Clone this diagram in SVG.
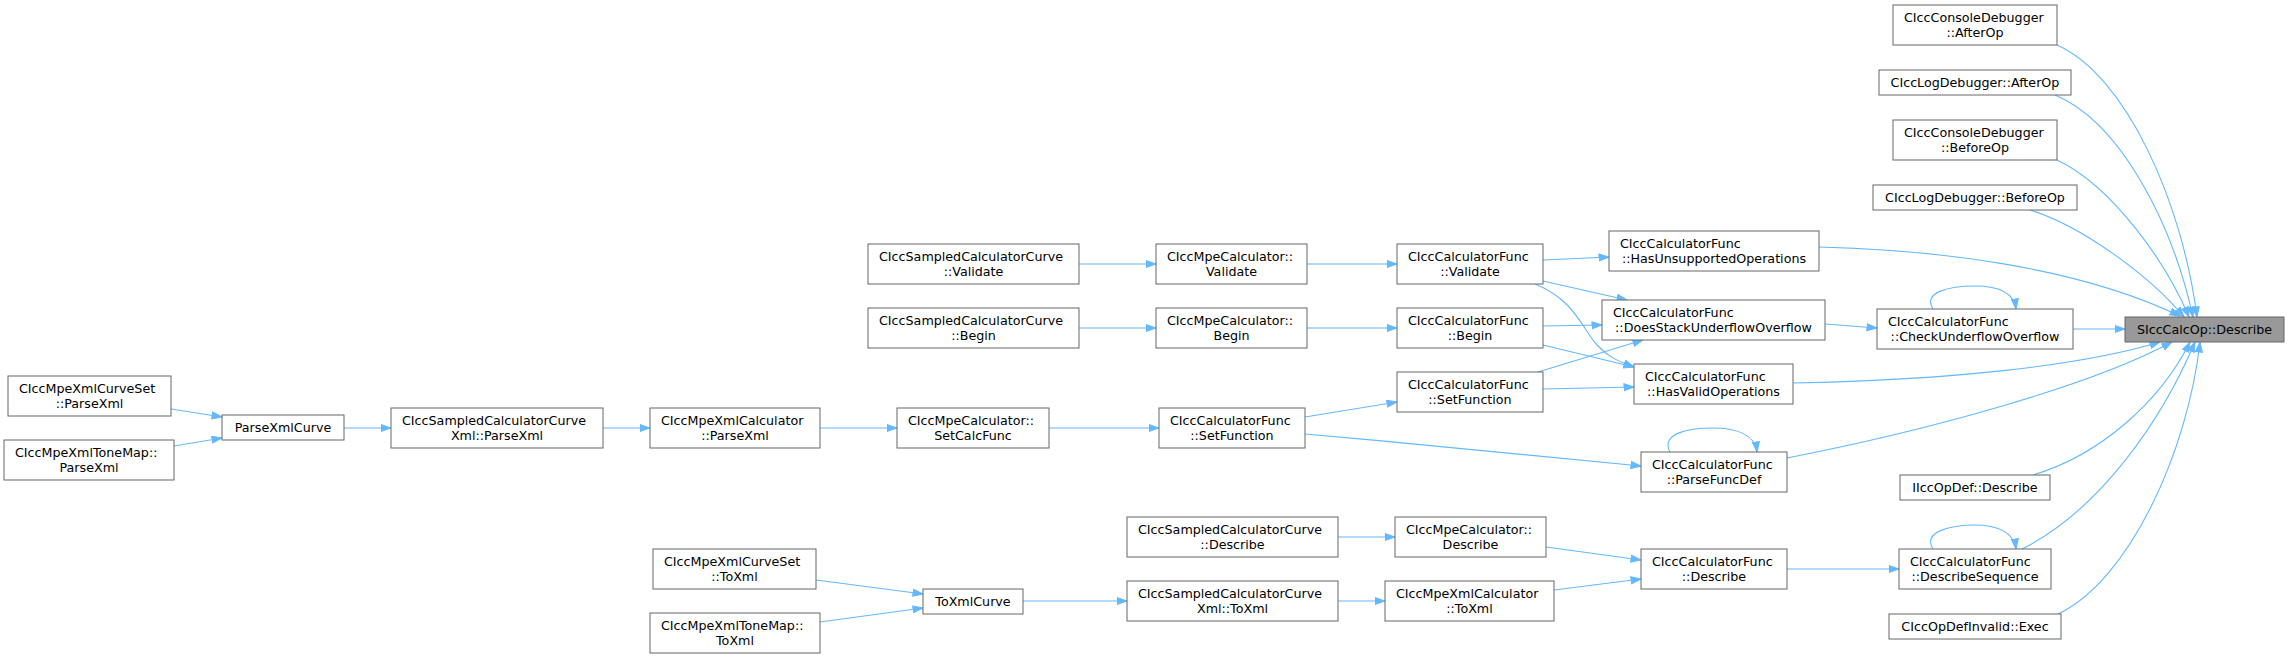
<svg xmlns="http://www.w3.org/2000/svg" width="2289" height="659" viewBox="0 0 2289 659">
<style>
rect.n{fill:#ffffff;stroke:#666666;stroke-width:1}
rect.h{fill:#999999;stroke:#666666;stroke-width:1}
text{font-family:"DejaVu Sans",sans-serif;font-size:12.7px;fill:#000000}
text.c{text-anchor:middle}
text.l{text-anchor:start}
#edges path{fill:none;stroke:#63b8ff;stroke-width:1.1;marker-end:url(#arr)}
</style>
<defs>
<marker id="arr" markerUnits="userSpaceOnUse" markerWidth="12" markerHeight="10" refX="10.5" refY="4" orient="auto">
<path d="M0.5,0.5 L10.5,4 L0.5,7.5 z" fill="#63b8ff" stroke="#63b8ff" stroke-width="1"/>
</marker>
</defs>
<rect width="2289" height="659" fill="#ffffff"/>
<g id="edges">
<path d="M171,409 L222,417"/>
<path d="M174,446 L222,438"/>
<path d="M344,428 L391,428"/>
<path d="M603,428 L650,428"/>
<path d="M820,428 L897,428"/>
<path d="M1049,428 L1159,428"/>
<path d="M1305,417 L1397,402"/>
<path d="M1305,434 C1420,444 1540,456 1641,466"/>
<path d="M1079,264 L1156,264"/>
<path d="M1307,264 L1397,264"/>
<path d="M1079,328 L1156,328"/>
<path d="M1307,328 L1397,328"/>
<path d="M1543,260 L1609,257"/>
<path d="M1543,281 L1627,300"/>
<path d="M1535,284 C1575,300 1583,330 1597,345 C1607,356 1617,361 1634,367"/>
<path d="M1543,326 L1602,325"/>
<path d="M1543,345 L1634,367"/>
<path d="M1538,372 L1643,340"/>
<path d="M1543,389 L1634,387"/>
<path d="M1825,324 L1877,328"/>
<path d="M2073,329 L2125,329"/>
<path d="M1933,309 C1922,292 1950,286 1975,286 C1997,286 2014,292 2016,309"/>
<path d="M1819,247 C1935,250 2075,266 2180,316"/>
<path d="M2057,45 C2125,75 2182,200 2197,317"/>
<path d="M2055,95 C2120,122 2172,222 2193,317"/>
<path d="M2057,160 C2112,186 2166,262 2189,317"/>
<path d="M2030,210 C2082,226 2150,276 2184,317"/>
<path d="M1793,383 C1950,380 2080,366 2160,342"/>
<path d="M1787,458 C1930,430 2090,386 2172,342"/>
<path d="M1670,452 C1660,433 1690,428 1712,428 C1735,428 1755,434 1757,452"/>
<path d="M2033,475 C2100,455 2160,402 2190,342"/>
<path d="M2022,549 C2100,510 2162,420 2195,342"/>
<path d="M1933,549 C1922,532 1950,525 1975,525 C1997,525 2014,532 2016,549"/>
<path d="M2058,614 C2130,580 2188,450 2200,342"/>
<path d="M1787,569 L1899,569"/>
<path d="M816,580 L923,594"/>
<path d="M820,622 L923,608"/>
<path d="M1023,601 L1127,601"/>
<path d="M1338,601 L1385,601"/>
<path d="M1338,537 L1395,537"/>
<path d="M1546,547 L1641,560"/>
<path d="M1554,590 L1641,579"/>
</g>
<g id="n1"><rect class="n" x="8" y="376" width="163" height="40"/><text class="l" x="19" y="392.5">CIccMpeXmlCurveSet</text><text class="c" x="89.5" y="407.5">::ParseXml</text></g>
<g id="n2"><rect class="n" x="4" y="440" width="170" height="40"/><text class="l" x="15" y="456.5">CIccMpeXmlToneMap::</text><text class="c" x="89" y="471.5">ParseXml</text></g>
<g id="n3"><rect class="n" x="222" y="415" width="122" height="25"/><text class="c" x="283" y="431.5">ParseXmlCurve</text></g>
<g id="n4"><rect class="n" x="391" y="408" width="212" height="40"/><text class="l" x="402" y="424.5">CIccSampledCalculatorCurve</text><text class="c" x="497" y="439.5">Xml::ParseXml</text></g>
<g id="n5"><rect class="n" x="650" y="408" width="170" height="40"/><text class="l" x="661" y="424.5">CIccMpeXmlCalculator</text><text class="c" x="735" y="439.5">::ParseXml</text></g>
<g id="n6"><rect class="n" x="897" y="408" width="152" height="40"/><text class="l" x="908" y="424.5">CIccMpeCalculator::</text><text class="c" x="973" y="439.5">SetCalcFunc</text></g>
<g id="n7"><rect class="n" x="1159" y="408" width="146" height="40"/><text class="l" x="1170" y="424.5">CIccCalculatorFunc</text><text class="c" x="1232" y="439.5">::SetFunction</text></g>
<g id="n8"><rect class="n" x="868" y="244" width="211" height="40"/><text class="l" x="879" y="260.5">CIccSampledCalculatorCurve</text><text class="c" x="973.5" y="275.5">::Validate</text></g>
<g id="n9"><rect class="n" x="1156" y="244" width="151" height="40"/><text class="l" x="1167" y="260.5">CIccMpeCalculator::</text><text class="c" x="1231.5" y="275.5">Validate</text></g>
<g id="n10"><rect class="n" x="868" y="308" width="211" height="40"/><text class="l" x="879" y="324.5">CIccSampledCalculatorCurve</text><text class="c" x="973.5" y="339.5">::Begin</text></g>
<g id="n11"><rect class="n" x="1156" y="308" width="151" height="40"/><text class="l" x="1167" y="324.5">CIccMpeCalculator::</text><text class="c" x="1231.5" y="339.5">Begin</text></g>
<g id="n12"><rect class="n" x="1397" y="244" width="146" height="40"/><text class="l" x="1408" y="260.5">CIccCalculatorFunc</text><text class="c" x="1470" y="275.5">::Validate</text></g>
<g id="n13"><rect class="n" x="1397" y="308" width="146" height="40"/><text class="l" x="1408" y="324.5">CIccCalculatorFunc</text><text class="c" x="1470" y="339.5">::Begin</text></g>
<g id="n14"><rect class="n" x="1397" y="372" width="146" height="40"/><text class="l" x="1408" y="388.5">CIccCalculatorFunc</text><text class="c" x="1470" y="403.5">::SetFunction</text></g>
<g id="n15"><rect class="n" x="1609" y="231" width="210" height="40"/><text class="l" x="1620" y="247.5">CIccCalculatorFunc</text><text class="c" x="1714" y="262.5">::HasUnsupportedOperations</text></g>
<g id="n16"><rect class="n" x="1602" y="300" width="223" height="40"/><text class="l" x="1613" y="316.5">CIccCalculatorFunc</text><text class="c" x="1713.5" y="331.5">::DoesStackUnderflowOverflow</text></g>
<g id="n17"><rect class="n" x="1634" y="364" width="159" height="40"/><text class="l" x="1645" y="380.5">CIccCalculatorFunc</text><text class="c" x="1713.5" y="395.5">::HasValidOperations</text></g>
<g id="n18"><rect class="n" x="1641" y="452" width="146" height="40"/><text class="l" x="1652" y="468.5">CIccCalculatorFunc</text><text class="c" x="1714" y="483.5">::ParseFuncDef</text></g>
<g id="n19"><rect class="n" x="653" y="549" width="163" height="40"/><text class="l" x="664" y="565.5">CIccMpeXmlCurveSet</text><text class="c" x="734.5" y="580.5">::ToXml</text></g>
<g id="n20"><rect class="n" x="650" y="613" width="170" height="40"/><text class="l" x="661" y="629.5">CIccMpeXmlToneMap::</text><text class="c" x="735" y="644.5">ToXml</text></g>
<g id="n21"><rect class="n" x="923" y="589" width="100" height="25"/><text class="c" x="973" y="605.5">ToXmlCurve</text></g>
<g id="n22"><rect class="n" x="1127" y="517" width="211" height="40"/><text class="l" x="1138" y="533.5">CIccSampledCalculatorCurve</text><text class="c" x="1232.5" y="548.5">::Describe</text></g>
<g id="n23"><rect class="n" x="1127" y="581" width="211" height="40"/><text class="l" x="1138" y="597.5">CIccSampledCalculatorCurve</text><text class="c" x="1232.5" y="612.5">Xml::ToXml</text></g>
<g id="n24"><rect class="n" x="1395" y="517" width="151" height="40"/><text class="l" x="1406" y="533.5">CIccMpeCalculator::</text><text class="c" x="1470.5" y="548.5">Describe</text></g>
<g id="n25"><rect class="n" x="1385" y="581" width="169" height="40"/><text class="l" x="1396" y="597.5">CIccMpeXmlCalculator</text><text class="c" x="1469.5" y="612.5">::ToXml</text></g>
<g id="n26"><rect class="n" x="1641" y="549" width="146" height="40"/><text class="l" x="1652" y="565.5">CIccCalculatorFunc</text><text class="c" x="1714" y="580.5">::Describe</text></g>
<g id="n27"><rect class="n" x="1893" y="5" width="164" height="40"/><text class="l" x="1904" y="21.5">CIccConsoleDebugger</text><text class="c" x="1975" y="36.5">::AfterOp</text></g>
<g id="n28"><rect class="n" x="1879" y="70" width="192" height="25"/><text class="c" x="1975" y="86.5">CIccLogDebugger::AfterOp</text></g>
<g id="n29"><rect class="n" x="1893" y="120" width="164" height="40"/><text class="l" x="1904" y="136.5">CIccConsoleDebugger</text><text class="c" x="1975" y="151.5">::BeforeOp</text></g>
<g id="n30"><rect class="n" x="1873" y="185" width="204" height="25"/><text class="c" x="1975" y="201.5">CIccLogDebugger::BeforeOp</text></g>
<g id="n31"><rect class="n" x="1877" y="309" width="196" height="40"/><text class="l" x="1888" y="325.5">CIccCalculatorFunc</text><text class="c" x="1975" y="340.5">::CheckUnderflowOverflow</text></g>
<g id="n32"><rect class="n" x="1900" y="475" width="150" height="25"/><text class="c" x="1975" y="491.5">IIccOpDef::Describe</text></g>
<g id="n33"><rect class="n" x="1899" y="549" width="152" height="40"/><text class="l" x="1910" y="565.5">CIccCalculatorFunc</text><text class="c" x="1975" y="580.5">::DescribeSequence</text></g>
<g id="n34"><rect class="n" x="1889" y="614" width="172" height="25"/><text class="c" x="1975" y="630.5">CIccOpDefInvalid::Exec</text></g>
<g id="n35"><rect class="h" x="2125" y="317" width="159" height="25"/><text class="c" x="2204.5" y="333.5">SIccCalcOp::Describe</text></g>
</svg>
